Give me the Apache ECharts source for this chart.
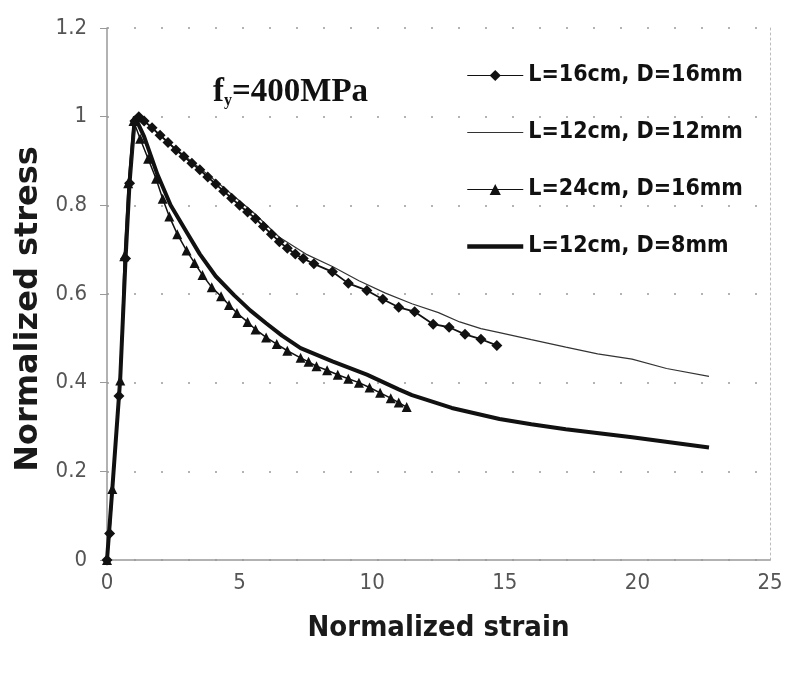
<!DOCTYPE html>
<html>
<head>
<meta charset="utf-8">
<script src="https://cdn.jsdelivr.net/npm/echarts@6/dist/echarts.min.js"></script>
<style>html,body{margin:0;padding:0;background:#fff}#c{width:787px;height:675px}</style>
</head>
<body>
<div id="c"></div>
<script>
// ---- data (x = normalized strain, y = normalized stress) ----
var seriesNames = ['L=16cm, D=16mm', 'L=12cm, D=12mm', 'L=24cm, D=16mm', 'L=12cm, D=8mm'];
var xTicks = [0, 5, 10, 15, 20, 25];
var yTicks = [0, 0.2, 0.4, 0.6, 0.8, 1, 1.2];
var xTitle = 'Normalized strain';
var yTitle = 'Normalized stress';

var s16x16 = [[0,0],[0.1,0.06],[0.45,0.37],[0.7,0.68],[0.85,0.85],[1.05,0.99],[1.2,1.0],[1.4,0.99],[1.7,0.975],[2.0,0.958],[2.3,0.942],[2.6,0.925],[2.9,0.91],[3.2,0.895],[3.5,0.88],[3.8,0.864],[4.1,0.848],[4.4,0.832],[4.7,0.816],[5.0,0.8],[5.3,0.785],[5.6,0.77],[5.9,0.752],[6.2,0.735],[6.5,0.718],[6.8,0.703],[7.1,0.69],[7.4,0.68],[7.8,0.668],[8.5,0.65],[9.1,0.624],[9.8,0.608],[10.4,0.588],[11.0,0.57],[11.6,0.56],[12.3,0.532],[12.9,0.525],[13.5,0.509],[14.1,0.498],[14.7,0.484]];
var s12x12 = [[0,0],[0.2,0.15],[0.45,0.38],[0.7,0.68],[0.85,0.85],[1.1,1.0],[1.5,0.985],[2.5,0.932],[3.5,0.884],[4.5,0.835],[5.5,0.785],[6.5,0.728],[7.5,0.69],[8.5,0.662],[9.5,0.63],[10.5,0.602],[11.5,0.578],[12.5,0.558],[13.3,0.537],[14.1,0.522],[14.8,0.513],[16,0.497],[17.3,0.48],[18.5,0.465],[19.8,0.453],[21.1,0.432],[22.7,0.414]];
var s24x16 = [[0,0],[0.2,0.16],[0.5,0.405],[0.65,0.685],[0.8,0.85],[1.0,0.99],[1.25,0.95],[1.55,0.905],[1.85,0.86],[2.1,0.815],[2.35,0.775],[2.65,0.735],[3.0,0.698],[3.3,0.67],[3.6,0.643],[3.95,0.615],[4.3,0.595],[4.6,0.575],[4.9,0.557],[5.3,0.537],[5.6,0.52],[6.0,0.502],[6.4,0.487],[6.8,0.472],[7.3,0.456],[7.6,0.447],[7.9,0.437],[8.3,0.428],[8.7,0.418],[9.1,0.409],[9.5,0.4],[9.9,0.389],[10.3,0.377],[10.7,0.365],[11.0,0.355],[11.3,0.345]];
var s12x8 = [[0,0],[0.2,0.16],[0.5,0.41],[0.7,0.68],[0.85,0.85],[1.05,1.0],[1.4,0.955],[1.9,0.87],[2.4,0.8],[3.0,0.74],[3.5,0.69],[4.1,0.64],[4.8,0.597],[5.4,0.563],[6.0,0.534],[6.6,0.506],[7.3,0.478],[8.5,0.448],[9.8,0.418],[11.0,0.385],[11.5,0.372],[13.0,0.343],[14.8,0.318],[16,0.306],[17.3,0.295],[19.8,0.277],[22.7,0.254]];

var narrow = '"Liberation Sans Narrow", "DejaVu Sans Condensed", "Arial Narrow", sans-serif';
var serif = '"Liberation Serif", "DejaVu Serif", serif';

var chart = echarts.init(document.getElementById('c'));
chart.setOption({
  animation: false,
  backgroundColor: '#fff',
  grid: { left: 107, right: 17, top: 28, bottom: 115 },
  graphic: [{
    type: 'text', left: 213, top: 76, z: 10,
    style: {
      text: '{a|f}{b|y}{a|=400MPa}',
      rich: {
        a: { fontFamily: serif, fontWeight: 'bold', fontSize: 33, fill: '#111' },
        b: { fontFamily: serif, fontWeight: 'bold', fontSize: 16, fill: '#111', verticalAlign: 'bottom' }
      }
    }
  }, {
    type: 'text', x: 29, y: 309, rotation: Math.PI / 2, z: 10,
    style: { text: yTitle, fontFamily: '"DejaVu Sans", sans-serif', fontWeight: 'bold', fontSize: 32, fill: '#1a1a1a', align: 'center', verticalAlign: 'middle' }
  }],
  legend: {
    orient: 'vertical', left: 460, top: 59,
    itemWidth: 56, itemHeight: 14, itemGap: 34,
    data: [
      { name: seriesNames[0], lineStyle: { width: 1.2 } },
      { name: seriesNames[1], itemStyle: { opacity: 0 }, lineStyle: { width: 1.2 } },
      { name: seriesNames[2], lineStyle: { width: 1.2 } },
      { name: seriesNames[3], itemStyle: { opacity: 0 }, lineStyle: { width: 4.5 } }
    ],
    textStyle: { fontFamily: narrow, fontWeight: 'bold', fontSize: 23, color: '#111', lineHeight: 22 }
  },
  xAxis: {
    type: 'value', min: xTicks[0], max: xTicks[xTicks.length - 1], interval: 5,
    name: xTitle, nameLocation: 'middle', nameGap: 54,
    nameTextStyle: { fontFamily: narrow, fontWeight: 'bold', fontSize: 29, color: '#1a1a1a' },
    axisLine: { onZero: false, lineStyle: { color: '#999', width: 1.5 } },
    axisTick: { show: false },
    axisLabel: { margin: 12, fontFamily: narrow, fontSize: 22, color: '#555' },
    splitLine: { show: false }
  },
  yAxis: [{
    type: 'value', min: yTicks[0], max: yTicks[yTicks.length - 1], interval: 0.2,
    axisLine: { show: true, lineStyle: { color: '#999', width: 1.5 } },
    axisTick: { show: true, length: 7, lineStyle: { color: '#999' } },
    axisLabel: { margin: 20, fontFamily: narrow, fontSize: 22, color: '#555' },
    splitLine: { show: true, lineStyle: { color: '#9a9a9a', width: 1.5, type: [2, 25] } }
  }, {
    type: 'value', position: 'right', min: 0, max: 1.2, interval: 0.2,
    axisLine: { show: true, lineStyle: { color: '#bbb', width: 1, type: [2, 3] } },
    axisTick: { show: false }, axisLabel: { show: false }, splitLine: { show: false }
  }],
  series: [
    { name: seriesNames[0], type: 'line', data: s16x16, symbol: 'diamond', symbolSize: 11,
      lineStyle: { color: '#111', width: 1.8 }, itemStyle: { color: '#111' }, z: 4 },
    { name: seriesNames[1], type: 'line', data: s12x12, symbol: 'none',
      lineStyle: { color: '#333', width: 1.2 }, itemStyle: { color: '#333' }, z: 3 },
    { name: seriesNames[2], type: 'line', data: s24x16, symbol: 'triangle', symbolSize: 10,
      lineStyle: { color: '#111', width: 1.5 }, itemStyle: { color: '#111' }, z: 4 },
    { name: seriesNames[3], type: 'line', data: s12x8, symbol: 'none',
      lineStyle: { color: '#111', width: 4 }, itemStyle: { color: '#111' }, z: 2 }
  ]
});
</script>
</body>
</html>
